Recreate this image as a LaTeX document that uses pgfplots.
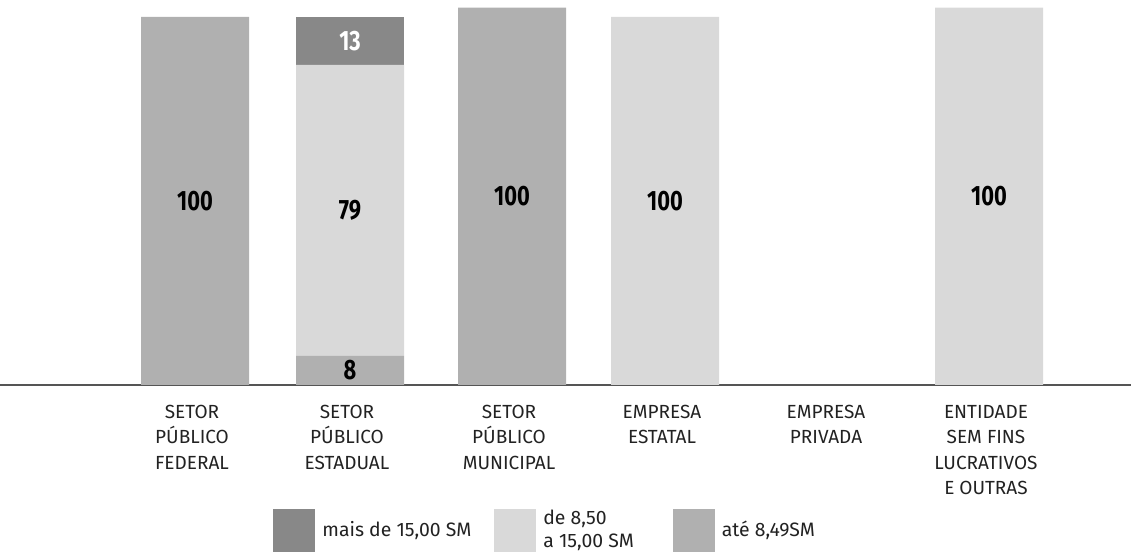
\documentclass[border=0pt]{standalone}
\usepackage{fontspec}
\setmainfont{Fira Sans}
\newfontfamily\numfont{Fira Sans}[FakeStretch=0.78]
\usepackage{pgfplots}
\pgfplotsset{compat=1.18}
\definecolor{cdark}{HTML}{888888}
\definecolor{clight}{HTML}{D9D9D9}
\definecolor{cmid}{HTML}{B0B0B0}
\definecolor{ctext}{HTML}{222222}
\definecolor{cline}{HTML}{555555}
\begin{document}
\begin{tikzpicture}
\useasboundingbox (0,0) rectangle (573pt,278pt);
\begin{axis}[
  at={(0pt,85.5pt)}, anchor=south west,
  scale only axis, width=573pt, height=192.5pt,
  xmin=0, xmax=11.46, ymin=0, ymax=104.6,
  ybar stacked, bar width=54pt,
  axis line style={draw=none},
  tick style={draw=none},
  ytick=\empty,
  xtick={1.95,3.50,5.12,6.65,8.29,9.89},
  xticklabels={{SETOR\\PÚBLICO\\FEDERAL},{SETOR\\PÚBLICO\\ESTADUAL},{SETOR\\PÚBLICO\\MUNICIPAL},{EMPRESA\\ESTATAL},{EMPRESA\\PRIVADA},{ENTIDADE\\SEM FINS\\LUCRATIVOS\\E OUTRAS}},
  xticklabel style={align=center, font=\fontsize{9.5}{12.75}\selectfont, text=ctext, anchor=north, yshift=-6.5pt, xshift=-1.5pt},
  point meta=explicit symbolic,
  nodes near coords,
  every node near coord/.append style={anchor=center, font=\numfont\bfseries\fontsize{14}{14}\selectfont, text=black},
  legend columns=3,
  legend style={at={(0.2382,-0.378)}, anchor=west, draw=none, inner sep=0pt,
    font=\fontsize{9.7}{11.5}\selectfont, text=ctext, cells={align=left},
    /tikz/every odd column/.append style={column sep=1.5pt},
    /tikz/column 2/.append style={column sep=9.5pt},
    /tikz/column 4/.append style={column sep=17.5pt}},
  legend image code/.code={\fill[#1] (0pt,-10.75pt) rectangle (21pt,10.75pt);},
  clip=false,
]
\addplot[fill=cmid, draw=none, forget plot] coordinates {(1.95,100) [100] (3.50,8) [8] (5.12,102.5) [100] (6.65,0) [] (8.29,0) [] (9.89,0) []};
\addplot[fill=clight, draw=none, forget plot] coordinates {(1.95,0) [] (3.50,79) [79] (5.12,0) [] (6.65,100) [100] (8.29,0) [] (9.89,102.5) [100]};
\addplot[fill=cdark, draw=none, forget plot, every node near coord/.append style={text=white}] coordinates {(1.95,0) [] (3.50,13) [13] (5.12,0) [] (6.65,0) [] (8.29,0) [] (9.89,0) []};
\addlegendimage{fill=cdark, draw=none}
\addlegendentry{mais de 15,00 SM}
\addlegendimage{fill=clight, draw=none}
\addlegendentry{de 8,50\\a 15,00 SM}
\addlegendimage{fill=cmid, draw=none}
\addlegendentry{até 8,49SM}
\draw[cline, line width=1pt] (rel axis cs:0,0) -- (rel axis cs:0.987,0);
\end{axis}
\end{tikzpicture}
\end{document}
